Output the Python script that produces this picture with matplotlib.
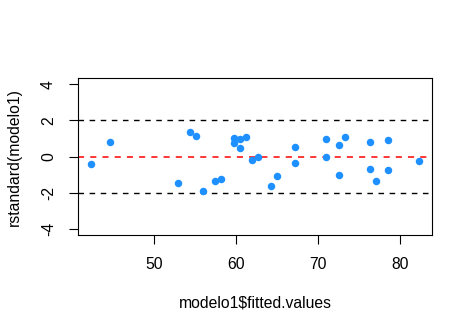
import matplotlib
matplotlib.use("Agg")
import matplotlib.pyplot as plt

fitted = [42.32, 44.63, 52.93, 54.39, 55.12, 55.98, 57.44, 58.17, 59.72, 59.72,
          60.49, 60.49, 61.22, 61.95, 62.68, 64.27, 65.00, 67.20, 67.20, 70.98,
          70.98, 72.56, 72.56, 73.29, 76.34, 76.34, 77.07, 78.54, 78.54, 82.32]
rstd = [-0.38, 0.82, -1.48, 1.37, 1.15, -1.92, -1.37, -1.21, 1.04, 0.78,
        0.95, 0.49, 1.10, -0.16, 0.00, -1.63, -1.04, 0.55, -0.33, 0.99,
        0.00, 0.66, -0.99, 1.10, 0.82, -0.66, -1.37, 0.93, -0.71, -0.22]
xticks = [50, 60, 70, 80]
yticks = [-4, -2, 0, 2, 4]
ref_black = [-2, 2]
ref_red = [0]

plt.rcParams['font.family'] = ['Liberation Sans', 'DejaVu Sans']
fs = 11.3

fig = plt.figure(figsize=(4.73, 3.33), dpi=100)
ax = fig.add_axes([78.3/473, 1 - 235/333, 354/473, (235-78.3)/333])

ax.plot(fitted, rstd, 'o', color='#1E90FF', markersize=5.4, markeredgewidth=0, zorder=3)
for h in ref_black:
    ax.axhline(h, color='black', lw=1.0, linestyle=(0, (4, 4)), zorder=2)
for h in ref_red:
    ax.axhline(h, color='#FF0000', lw=1.1, linestyle=(0, (4, 4)), zorder=2)

xr = max(fitted) - min(fitted)
ax.set_xlim(min(fitted) - 0.04*xr, max(fitted) + 0.04*xr)
ax.set_ylim(-4.32, 4.32)
ax.set_xticks(xticks)
ax.set_yticks(yticks)
ax.set_yticklabels([str(t) for t in yticks], rotation=90, va='center')
ax.tick_params(axis='both', direction='out', length=6.7, width=0.8, labelsize=fs, pad=9.4, color='black')
for s in ax.spines.values():
    s.set_linewidth(0.8)

fig.text(255.3/473, 1 - 303/333, 'modelo1$fitted.values', ha='center', va='center', fontsize=fs)
fig.text(14/473, 1 - 156.6/333, 'rstandard(modelo1)', ha='center', va='center', rotation=90, fontsize=fs)

fig.savefig('out.png', dpi=100)
